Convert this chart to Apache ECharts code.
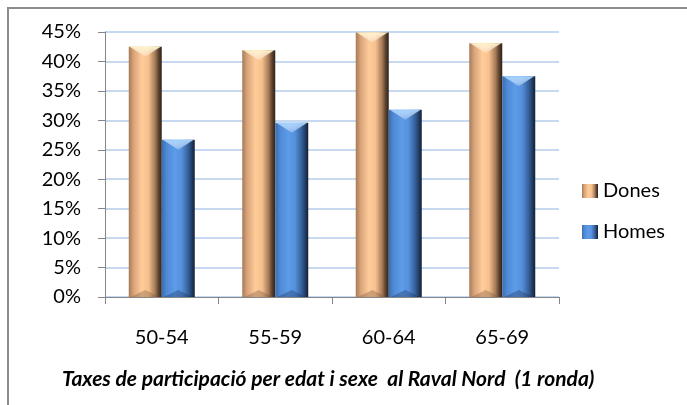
<!DOCTYPE html>
<html>
<head>
<meta charset="utf-8">
<script src="https://cdn.jsdelivr.net/npm/echarts@6/dist/echarts.min.js"></script>
<style>
html,body{margin:0;padding:0;background:#fff;}
#c{width:687px;height:405px;}
</style>
</head>
<body>
<div id="c"></div>
<script>
const categories = ['50-54', '55-59', '60-64', '65-69'];
const dones = [0.425, 0.419, 0.449, 0.431];
const homes = [0.267, 0.296, 0.318, 0.375];
const yTicks = {min: 0, max: 0.45, interval: 0.05};
const titleText = 'Taxes de participació per edat i sexe  al Raval Nord  (1 ronda)';

const FONT = 'Lato, "Open Sans", sans-serif';
const BAR_W = 33;

function grad(stops) {
  return new echarts.graphic.LinearGradient(0, 0, 1, 0, stops.map(s => ({offset: s[0], color: s[1]})));
}
const donesGrad = grad([[0, '#a67a58'], [0.15, '#d9a47a'], [0.4, '#ffcc99'], [0.6, '#f5c08e'], [0.8, '#a57a57'], [0.9, '#5e4430'], [1, '#2e2117']]);
const homesGrad = grad([[0, '#3b6db0'], [0.15, '#4f8ad6'], [0.4, '#5d9ce8'], [0.6, '#5590dc'], [0.8, '#36609a'], [0.9, '#23406a'], [1, '#131f33']]);

function bevel(side, topColor, botColor) {
  return function (params, api) {
    const idx = api.value(0), val = api.value(1);
    const top = api.coord([idx, val]);
    const base = api.coord([idx, 0]);
    const cx = top[0];
    const x0 = side < 0 ? cx - BAR_W : cx;
    const x1 = x0 + BAR_W;
    const xm = (x0 + x1) / 2;
    const yt = top[1], yb = base[1];
    return {
      type: 'group',
      children: [
        {type: 'polygon', shape: {points: [[x0 + 1, yt], [x1 - 1, yt], [xm, yt + 10]]},
          style: {fill: new echarts.graphic.LinearGradient(0, 0, 0, 1, [
            {offset: 0, color: topColor}, {offset: 1, color: 'rgba(255,255,255,0.25)'}])}},
        {type: 'polygon', shape: {points: [[x0 + 2, yb], [x1 - 2, yb], [xm, yb - 7]]},
          style: {fill: botColor}}
      ]
    };
  };
}

const chart = echarts.init(document.getElementById('c'));
chart.setOption({
  animation: false,
  backgroundColor: '#fff',
  textStyle: {fontFamily: FONT},
  graphic: [{
    type: 'rect',
    shape: {x: 8, y: 8, width: 700, height: 420},
    style: {fill: 'none', stroke: '#8c8c8c', lineWidth: 2},
    silent: true
  }],
  title: {
    text: titleText,
    left: 57,
    top: 364,
    textStyle: {fontFamily: FONT, fontSize: 21, fontStyle: 'italic', fontWeight: 'bold', color: '#000'}
  },
  legend: {
    orient: 'vertical',
    left: 577,
    top: 176,
    itemWidth: 16,
    itemHeight: 14,
    itemGap: 21,
    icon: 'rect',
    textStyle: {fontFamily: FONT, fontSize: 20, color: '#000', padding: [0, 0, 0, 0]},
    data: ['Dones', 'Homes']
  },
  grid: {left: 105, top: 32, right: 128, bottom: 108},
  xAxis: {
    type: 'category',
    data: categories,
    axisLine: {lineStyle: {color: '#868686', width: 1}},
    axisTick: {show: true, length: 7, lineStyle: {color: '#868686'}},
    axisLabel: {fontFamily: FONT, fontSize: 20, color: '#000', margin: 31},
    splitLine: {show: false}
  },
  yAxis: {
    type: 'value',
    min: yTicks.min,
    max: yTicks.max,
    interval: yTicks.interval,
    axisLine: {show: true, lineStyle: {color: '#868686', width: 1}},
    axisTick: {show: true, length: 7, lineStyle: {color: '#868686'}},
    axisLabel: {fontFamily: FONT, fontSize: 20, color: '#000', margin: 24,
      formatter: v => Math.round(v * 100) + '%'},
    splitLine: {show: true, lineStyle: {color: '#c6d9f1', width: 2}}
  },
  series: [
    {name: 'Dones', type: 'bar', data: dones, barWidth: BAR_W, barGap: '0%',
      itemStyle: {color: donesGrad}},
    {name: 'Homes', type: 'bar', data: homes, barWidth: BAR_W, barGap: '0%',
      itemStyle: {color: homesGrad}},
    {type: 'custom', data: dones.map((v, i) => [i, v]), renderItem: bevel(-1, '#fff2c8', 'rgba(120,85,60,0.35)'),
      silent: true, z: 3, encode: {x: 0, y: 1}},
    {type: 'custom', data: homes.map((v, i) => [i, v]), renderItem: bevel(1, '#9fd0ff', 'rgba(30,50,90,0.35)'),
      silent: true, z: 3, encode: {x: 0, y: 1}}
  ]
});
</script>
</body>
</html>
